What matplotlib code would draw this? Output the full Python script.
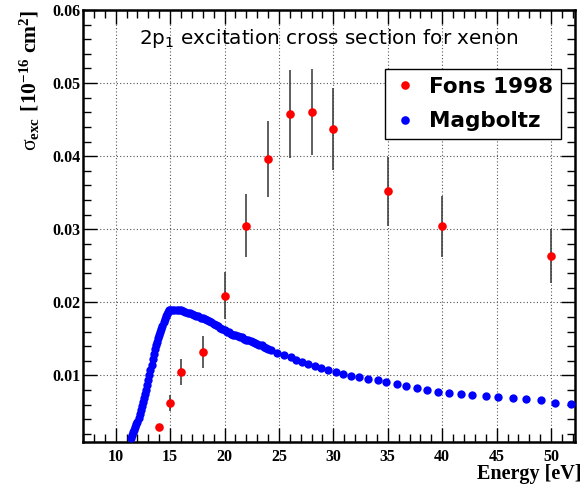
import matplotlib
matplotlib.use("Agg")
import matplotlib.pyplot as plt
from matplotlib.lines import Line2D
from matplotlib.ticker import MultipleLocator

# Fons 1998 measurement
fons_energy = [14, 15, 16, 18, 20, 22, 24, 26, 28, 30, 35, 40, 50]
fons_sigma = [0.0030, 0.0062, 0.0105, 0.0132, 0.0209, 0.0305, 0.0396,
              0.0458, 0.0460, 0.0437, 0.0352, 0.0304, 0.0264]
fons_err = [0.0003, 0.0011, 0.0018, 0.0022, 0.0032, 0.0043, 0.0052,
            0.0060, 0.0059, 0.0056, 0.0047, 0.0042, 0.0037]

# Magboltz cross section
mag_energy = [
    11.4, 11.5, 11.6, 11.7, 11.8, 11.9, 12.0, 12.1, 12.2, 12.3, 12.4, 12.5,
    12.6, 12.7, 12.8, 12.9, 13.0, 13.1, 13.2, 13.3, 13.4, 13.5, 13.6, 13.7,
    13.8, 13.9, 14.0, 14.1, 14.2, 14.3, 14.4, 14.5, 14.6, 14.7, 14.8, 14.9,
    15.0, 15.2, 15.4, 15.6, 15.8, 16.0, 16.2, 16.4, 16.6, 16.8, 17.0, 17.2,
    17.4, 17.6, 17.8, 18.0, 18.2, 18.4, 18.6, 18.8, 19.0, 19.2, 19.4, 19.6,
    19.8, 20.0, 20.2, 20.4, 20.6, 20.8, 21.0, 21.2, 21.4, 21.6, 21.8, 22.0,
    22.2, 22.4, 22.6, 22.8, 23.0, 23.2, 23.4, 23.6, 23.8, 24.0,
    24.23, 24.84, 25.46, 26.07, 26.59, 27.14, 27.70, 28.31, 28.89, 29.53,
    30.21, 30.88, 31.59, 32.35, 33.21, 34.13, 34.87, 35.82, 36.71, 37.69,
    38.58, 39.62, 40.63, 41.71, 42.78, 44.01, 45.17, 46.46, 47.69, 49.07,
    50.36, 51.83,
]
mag_sigma = [
    0.0014, 0.0018, 0.0022, 0.0025, 0.0029, 0.0033, 0.0037, 0.0042, 0.0047,
    0.0053, 0.0058, 0.0064, 0.0069, 0.0075, 0.0080, 0.0087, 0.0094, 0.0101,
    0.0108, 0.0115, 0.0122, 0.0130, 0.0136, 0.0141, 0.0146, 0.0151, 0.0156,
    0.0160, 0.0164, 0.0168, 0.0173, 0.0177, 0.0181, 0.0184, 0.0187, 0.0189,
    0.0190, 0.0190, 0.0190, 0.0190, 0.0190, 0.0189, 0.0188, 0.0187, 0.0186,
    0.0185, 0.0184, 0.0183, 0.0182, 0.0181, 0.0179, 0.0178, 0.0177, 0.0176,
    0.0175, 0.0173, 0.0171, 0.0169, 0.0167, 0.0165, 0.0164, 0.0162, 0.0160,
    0.0159, 0.0157, 0.0156, 0.0155, 0.0154, 0.0153, 0.0152, 0.0150, 0.0149,
    0.0148, 0.0147, 0.0146, 0.0145, 0.0143, 0.0142, 0.0141, 0.0139, 0.0138,
    0.0136,
    0.01343, 0.01307, 0.01274, 0.01247, 0.01215, 0.01188, 0.01160, 0.01133,
    0.01101, 0.01068, 0.01046, 0.01019, 0.00996, 0.00973, 0.00955, 0.00932,
    0.00914, 0.00882, 0.00859, 0.00827, 0.00804, 0.00773, 0.00759, 0.00745,
    0.00736, 0.00722, 0.00708, 0.00685, 0.00677, 0.00658, 0.00630, 0.00612,
]

x_ticks = [10, 15, 20, 25, 30, 35, 40, 45, 50]
y_ticks = [0.01, 0.02, 0.03, 0.04, 0.05, 0.06]

plt.rcParams.update({
    "mathtext.fontset": "custom",
    "mathtext.rm": "Liberation Serif",
    "mathtext.it": "Liberation Serif:italic",
    "mathtext.bf": "Liberation Serif:bold",
    "mathtext.sf": "DejaVu Sans",
})

fig = plt.figure(figsize=(5.85, 4.88), dpi=100)
ax = fig.add_axes([0.1419, 0.0943, 0.8410, 0.8852])

ax.plot(mag_energy, mag_sigma, "o", color="#0000ff", markersize=6.0,
        markeredgewidth=0, zorder=3)
ax.errorbar(fons_energy, fons_sigma, yerr=fons_err, fmt="o", color="#ff0000",
            markersize=6.2, markeredgewidth=0, ecolor="#333333",
            elinewidth=1.1, capsize=2.4, capthick=1.1, zorder=4)

ax.set_xlim(7, 52.2)
ax.set_ylim(0.0009, 0.06)
ax.set_xticks(x_ticks)
ax.set_yticks(y_ticks)
ax.set_yticklabels([f"{v:.2f}" for v in y_ticks])
ax.xaxis.set_minor_locator(MultipleLocator(1))
ax.yaxis.set_minor_locator(MultipleLocator(0.002))
ax.tick_params(which="both", direction="in", top=True, right=True, width=1.0)
ax.tick_params(which="major", length=10)
ax.tick_params(which="minor", length=5.5)
ax.tick_params(axis="x", which="major", pad=5)
ax.tick_params(axis="y", which="major", pad=2)
for lab in ax.get_xticklabels() + ax.get_yticklabels():
    lab.set_fontfamily("Liberation Serif")
    lab.set_fontweight("bold")
    lab.set_fontsize(11.5)

for spine in ax.spines.values():
    spine.set_linewidth(1.8)
ax.grid(True, which="major", linestyle=(0, (1, 2)), color="#555555",
        linewidth=0.8)

ax.text(1.0 + 7 / 492, -0.075, "Energy [eV]", transform=ax.transAxes,
        ha="right", va="center", fontfamily="Liberation Serif",
        fontweight="bold", fontsize=14.5)
ax.set_ylabel(r"$\mathrm{\sigma}_{\mathbf{exc}}$ $\mathbf{[10^{-16}\ cm^{2}]}$",
              fontsize=15.5, loc="top", labelpad=7)

ax.text(0.5, 0.935, r"2p$_{\mathsf{1}}$ excitation cross section for xenon",
        transform=ax.transAxes, ha="center", va="center",
        fontfamily="DejaVu Sans", fontsize=14.4)

handles = [
    Line2D([], [], marker="o", linestyle="none", color="#ff0000",
           markersize=6.2, markeredgewidth=0),
    Line2D([], [], marker="o", linestyle="none", color="#0000ff",
           markersize=6.2, markeredgewidth=0),
]
leg = ax.legend(handles, ["Fons 1998", "Magboltz"], loc="upper left",
                bbox_to_anchor=(0.614, 0.8634), borderaxespad=0,
                fancybox=False, framealpha=1, edgecolor="black",
                prop={"family": "DejaVu Sans", "weight": "bold",
                      "size": 15.5},
                handletextpad=0.55, borderpad=0.37, labelspacing=0.67,
                handlelength=1.1)
leg.get_frame().set_linewidth(1.0)

fig.savefig("out.png", dpi=100)
